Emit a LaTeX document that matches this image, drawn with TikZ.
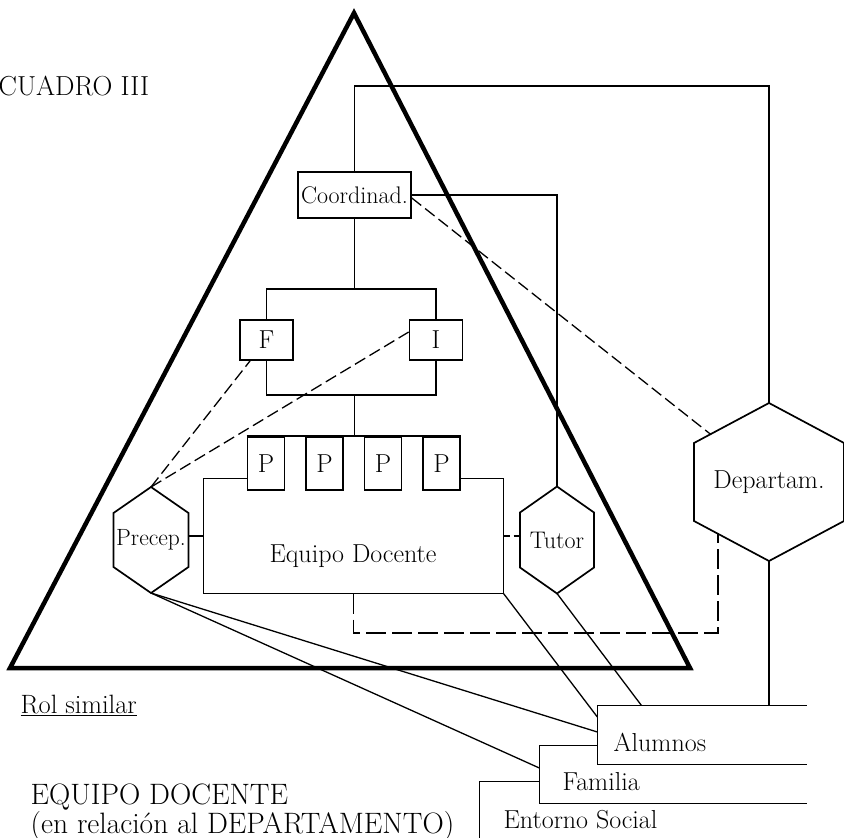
\documentclass[tikz,border=0pt]{standalone}
\usepackage{fontspec}
\usetikzlibrary{calc}

\tikzset{every picture/.style={line width=1.3pt}}
\tikzset{
lbl/.style={inner sep=0pt, font=\fontsize{24}{26}\selectfont},
biglbl/.style={inner sep=0pt, font=\fontsize{26}{28}\selectfont},
boxnode/.style={draw, line width=1.6pt, inner sep=0pt, font=\fontsize{24}{26}\selectfont},
letterbox/.style={draw, line width=1.6pt, inner sep=0pt, font=\fontsize{26}{28}\selectfont},
frame/.style={inner sep=0pt},
boxline/.style={line width=1.6pt},
hexline/.style={line width=1.7pt},
conn/.style={line width=1.3pt},
dashconn/.style={line width=1.3pt, dash pattern=on 12pt off 5pt},
pyramid/.style={line width=4.5pt, line join=miter}}

% hexagon round a node: name, half width, slant drop, side
\newcommand{\hexa}[4]{%
  \draw[hexline] ($(#1)+(0,{-#3-#4/2})$) coordinate (#1-t)
    -- ++(#2,#3) coordinate (#1-ur) -- ++(0,#4) coordinate (#1-lr)
    -- ++(-#2,#3) coordinate (#1-b) -- ++(-#2,-#3) coordinate (#1-ll)
    -- ++(0,-#4) coordinate (#1-ul) -- cycle;}

\begin{document}
\begin{tikzpicture}[x=1pt,y=-1pt]
\useasboundingbox (0,0) rectangle (844,838);

%big triangle
\draw[pyramid] (354,13) -- (690,668) -- (10,668) -- cycle;

%boxes
\node[boxnode, minimum width=113pt, minimum height=46pt] (coord) at (354.5,195) {Coordinad.};
\node[letterbox, minimum width=53pt, minimum height=40pt] (F) at (266.5,340) {F};
\node[letterbox, minimum width=53pt, minimum height=40pt] (I) at (436,340) {I};
\foreach \i/\x in {1/266,2/324.5,3/383,4/441.5}
  \node[letterbox, minimum width=37pt, minimum height=53pt] (p\i) at (\x,463.5) {P};
\node[frame, minimum width=299pt, minimum height=114pt] (equipo) at (353.5,536) {};
\node[biglbl] (eqlabel) at (353,556) {Equipo Docente};

%hexagons
\node[lbl, font=\fontsize{23.5}{25}\selectfont] (prec) at (151,540) {Precep.};
\hexa{prec}{37.5}{26}{54}
\node[lbl] (tut) at (557,540) {Tutor};
\hexa{tut}{37}{26}{55}
\node[biglbl] (dep) at (769,482) {Departam.};
\hexa{dep}{75}{40}{78}

%cards at the bottom right
\node[frame, minimum width=208pt, minimum height=58pt] (alum) at (702,735) {};
\node[frame, minimum width=266pt, minimum height=57pt] (fam) at (673,774.5) {};
\node[frame, minimum width=330pt, minimum height=70pt] (ent) at (645,817) {};
\draw[boxline] (alum.north east) -- (alum.north west) -- (alum.south west) -- (alum.south east);
\draw[boxline] (fam.north west -| alum.west) -- (fam.north west) -- (fam.south west) -- (fam.south east);
\draw[boxline] (ent.north west -| fam.west) -- (ent.north west) -- (ent.south west);
\node[biglbl, anchor=west] (alumtxt) at (613,742) {Alumnos};
\node[biglbl, anchor=west] (famtxt) at (562,782) {Familia};
\node[biglbl, anchor=west] (enttxt) at (503,820) {Entorno Social};

%equipo frame
\draw[boxline] (p1.west |- equipo.north) -- (equipo.north west) -- (equipo.south west)
  -- (equipo.south east) -- (equipo.north east) -- (p4.east |- equipo.north);
\draw[boxline] (p1.north west) -- (p4.north east);

%solid connectors
\coordinate (toprail) at (560,86);
\coordinate (upbar) at (354.5,289);
\coordinate (lowbar) at (354.5,395);
\draw[conn] (coord.north) |- (toprail) -| (dep-t);
\draw[conn] (coord.east) -| (tut-t);
\draw[conn] (coord.south) -- (upbar);
\draw[conn] (F.north) |- (upbar) -| (I.north);
\draw[conn] (F.south) |- (lowbar) -| (I.south);
\draw[conn] (lowbar) -- (lowbar |- p1.north);
\draw[conn] (prec-ur |- equipo.west) -- (equipo.west);
\draw[conn] (prec-b) -- (alum.west |- 0,732);
\draw[conn] (prec-b) -- (fam.west |- 0,768);
\draw[conn] (equipo.south east) -- (alum.west |- 0,717);
\draw[conn] (tut-b) -- ([xshift=44pt]alum.north west);
\draw[conn] (dep-b) -- (dep-b |- alum.north);

%dashed connectors
\coordinate (depdash) at ($(dep-ll)!0.32!(dep-b)$);
\draw[dashconn] ([yshift=-3pt]coord.east) -- ($(dep-ul)!0.22!(dep-t)$);
\draw[dashconn] (prec-t) -- ($(F.south west)!0.2!(F.south east)$);
\draw[dashconn] (prec-t) -- ([yshift=8pt]I.west);
\draw[dashconn, dash pattern=on 6pt off 4pt] (equipo.east) -- (tut-ul |- equipo.east);
\draw[dashconn, dash pattern=on 20pt off 6pt] (equipo.south) |- (depdash |- 0,633) -- (depdash);

%titles
\node[anchor=west, inner sep=0pt, font=\fontsize{27.5}{29}\selectfont] (cuadro) at (-2,86) {CUADRO III};
\node[anchor=base west, inner sep=0pt, font=\fontsize{26.5}{28}\selectfont] (rol) at (20,713) {\underline{Rol similar}};
\node[anchor=north west, inner sep=0pt, align=left, font=\fontsize{29.5}{24}\selectfont] (title) at (30,783)
  {EQUIPO DOCENTE\\(en relación al DEPARTAMENTO)};

\end{tikzpicture}
\end{document}
